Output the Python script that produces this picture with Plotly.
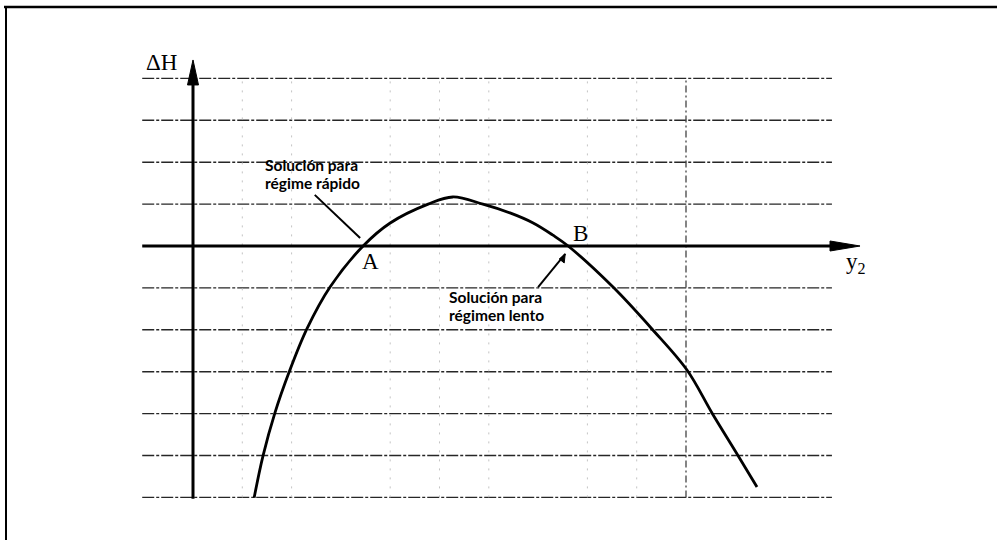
import plotly.graph_objects as go

# ---- data (arbitrary units; x-axis = y2, y-axis = ΔH) ----
y2_values = [1.24, 1.42, 1.66, 1.95, 2.31, 2.78, 3.45, 4.00, 4.77, 5.27,
             5.88, 6.43, 6.90, 7.30, 7.61, 8.52, 9.31, 10.02, 10.53, 11.06, 11.44]
dH_values = [-6.01, -5.01, -3.99, -3.01, -1.98, -0.98, 0.00, 0.55, 1.00, 1.17,
             1.00, 0.79, 0.55, 0.26, 0.00, -0.98, -1.98, -2.96, -3.99, -5.01, -5.75]

hgrid_levels = [-6, -5, -4, -3, -2, -1, 1, 2, 3, 4]
vgrid_faint = [1, 2, 4, 5, 6, 8, 9]
vgrid_strong = [10]
grid_x_span = [-1.03, 12.96]
grid_y_span = [-6.0, 4.0]

point_A = (3.45, 0.0)
point_B = (7.61, 0.0)

label_upper = ["Solución para", "régime rápido"]
label_lower = ["Solución para", "régimen lento"]

# axis geometry (1 x-unit = 49.3 px, 1 y-unit = 41.9 px)
PX_X = 49.3
PX_Y = 41.9
X_RANGE = [-193 / PX_X, (997 - 193) / PX_X]
Y_RANGE = [-(540 - 246) / PX_Y, 246 / PX_Y]
yaxis_tip = 4.44
xaxis_tip = 13.53

fig = go.Figure()

shapes = []
# horizontal grid
for lv in hgrid_levels:
    shapes.append(dict(type="line", xref="x", yref="y", x0=grid_x_span[0], x1=grid_x_span[1],
                       y0=lv, y1=lv, line=dict(color="#262626", width=1.4, dash="12px,2px,3px,2px"),
                       layer="below"))
# vertical grid
for vx in vgrid_faint:
    shapes.append(dict(type="line", xref="x", yref="y", x0=vx, x1=vx,
                       y0=grid_y_span[0], y1=grid_y_span[1],
                       line=dict(color="#c4c4c4", width=1, dash="2px,7px"), layer="below"))
for vx in vgrid_strong:
    shapes.append(dict(type="line", xref="x", yref="y", x0=vx, x1=vx,
                       y0=grid_y_span[0], y1=grid_y_span[1],
                       line=dict(color="#444444", width=1.3, dash="7px,3px,2px,3px"), layer="below"))

# axes lines
shapes.append(dict(type="line", xref="x", yref="y", x0=0, x1=0, y0=-6.03, y1=yaxis_tip - 0.5,
                   line=dict(color="black", width=3)))
shapes.append(dict(type="line", xref="x", yref="y", x0=grid_x_span[0], x1=xaxis_tip - 0.5, y0=0, y1=0,
                   line=dict(color="black", width=3)))
# arrowheads
hw_x = 5.5 / PX_X
hw_y = 5.0 / PX_Y
ybase = yaxis_tip - 25 / PX_Y
xbase = xaxis_tip - 30 / PX_X
shapes.append(dict(type="path", xref="x", yref="y",
                   path=f"M {-hw_x} {ybase} L 0 {yaxis_tip} L {hw_x} {ybase} Z",
                   fillcolor="black", line=dict(color="black", width=1)))
shapes.append(dict(type="path", xref="x", yref="y",
                   path=f"M {xbase} {-hw_y} L {xaxis_tip} 0 L {xbase} {hw_y} Z",
                   fillcolor="black", line=dict(color="black", width=1)))

# leader lines
up_from, up_to = (2.47, 1.22), (3.39, 0.19)
lo_from, lo_to = (7.0, -0.98), (7.55, -0.19)
shapes.append(dict(type="line", xref="x", yref="y", x0=up_from[0], y0=up_from[1],
                   x1=up_to[0], y1=up_to[1], line=dict(color="black", width=2)))
shapes.append(dict(type="line", xref="x", yref="y", x0=lo_from[0], y0=lo_from[1],
                   x1=lo_to[0], y1=lo_to[1], line=dict(color="black", width=2)))
# small arrow tip at end of lower leader
shapes.append(dict(type="path", xref="x", yref="y",
                   path=(f"M {lo_to[0] - 6 / PX_X} {lo_to[1] - 5 / PX_Y} L {lo_to[0]} {lo_to[1]} "
                         f"L {lo_to[0] - 1 / PX_X} {lo_to[1] - 9 / PX_Y} Z"),
                   fillcolor="black", line=dict(color="black", width=1)))

# page frame (scanned border)
shapes.append(dict(type="line", xref="paper", yref="paper", x0=4/997, x1=1, y0=1-7/540, y1=1-7/540,
                   line=dict(color="black", width=2.5)))
shapes.append(dict(type="line", xref="paper", yref="paper", x0=6/997, x1=6/997, y0=0, y1=1-7/540,
                   line=dict(color="black", width=2)))

fig.add_trace(go.Scatter(x=y2_values, y=dH_values, mode="lines",
                         line=dict(color="black", width=2.8, shape="spline", smoothing=1.0),
                         hoverinfo="skip", showlegend=False))

serif = "Liberation Serif, Times New Roman, serif"
sans = "Lato, Open Sans, sans-serif"

annotations = [
    dict(x=-0.63, y=4.39, text="ΔH", showarrow=False, font=dict(family=serif, size=23, color="black")),
    dict(x=point_A[0] + 0.16, y=point_A[1] - 0.38, text="A", showarrow=False,
         font=dict(family=serif, size=23, color="black")),
    dict(x=point_B[0] + 0.24, y=point_B[1] + 0.29, text="B", showarrow=False,
         font=dict(family=serif, size=23, color="black")),
    dict(x=13.45, y=-0.40, text="y<sub>2</sub>", showarrow=False,
         font=dict(family=serif, size=23, color="black")),
]
# label lines, one annotation per line (line centres in px: upper 165/183, lower 297/315)
for txt, yc in zip(label_upper, [(246 - 165) / PX_Y, (246 - 183) / PX_Y]):
    annotations.append(dict(x=(263 - 193) / PX_X, y=yc, text="<b>" + txt + "</b>", showarrow=False,
                            xanchor="left", yanchor="middle",
                            font=dict(family=sans, size=15.5, color="black")))
for txt, yc in zip(label_lower, [(246 - 297) / PX_Y, (246 - 315) / PX_Y]):
    annotations.append(dict(x=(447 - 193) / PX_X, y=yc, text="<b>" + txt + "</b>", showarrow=False,
                            xanchor="left", yanchor="middle",
                            font=dict(family=sans, size=15.5, color="black")))

fig.update_layout(
    width=997, height=540, autosize=False,
    margin=dict(l=0, r=0, t=0, b=0),
    paper_bgcolor="white", plot_bgcolor="white",
    shapes=shapes, annotations=annotations,
    xaxis=dict(range=X_RANGE, visible=False, fixedrange=True),
    yaxis=dict(range=Y_RANGE, visible=False, fixedrange=True),
    showlegend=False,
)

fig.write_html("out.html", config={"displayModeBar": False},
               post_script="document.body.style.margin='0';document.body.style.overflow='hidden';")
